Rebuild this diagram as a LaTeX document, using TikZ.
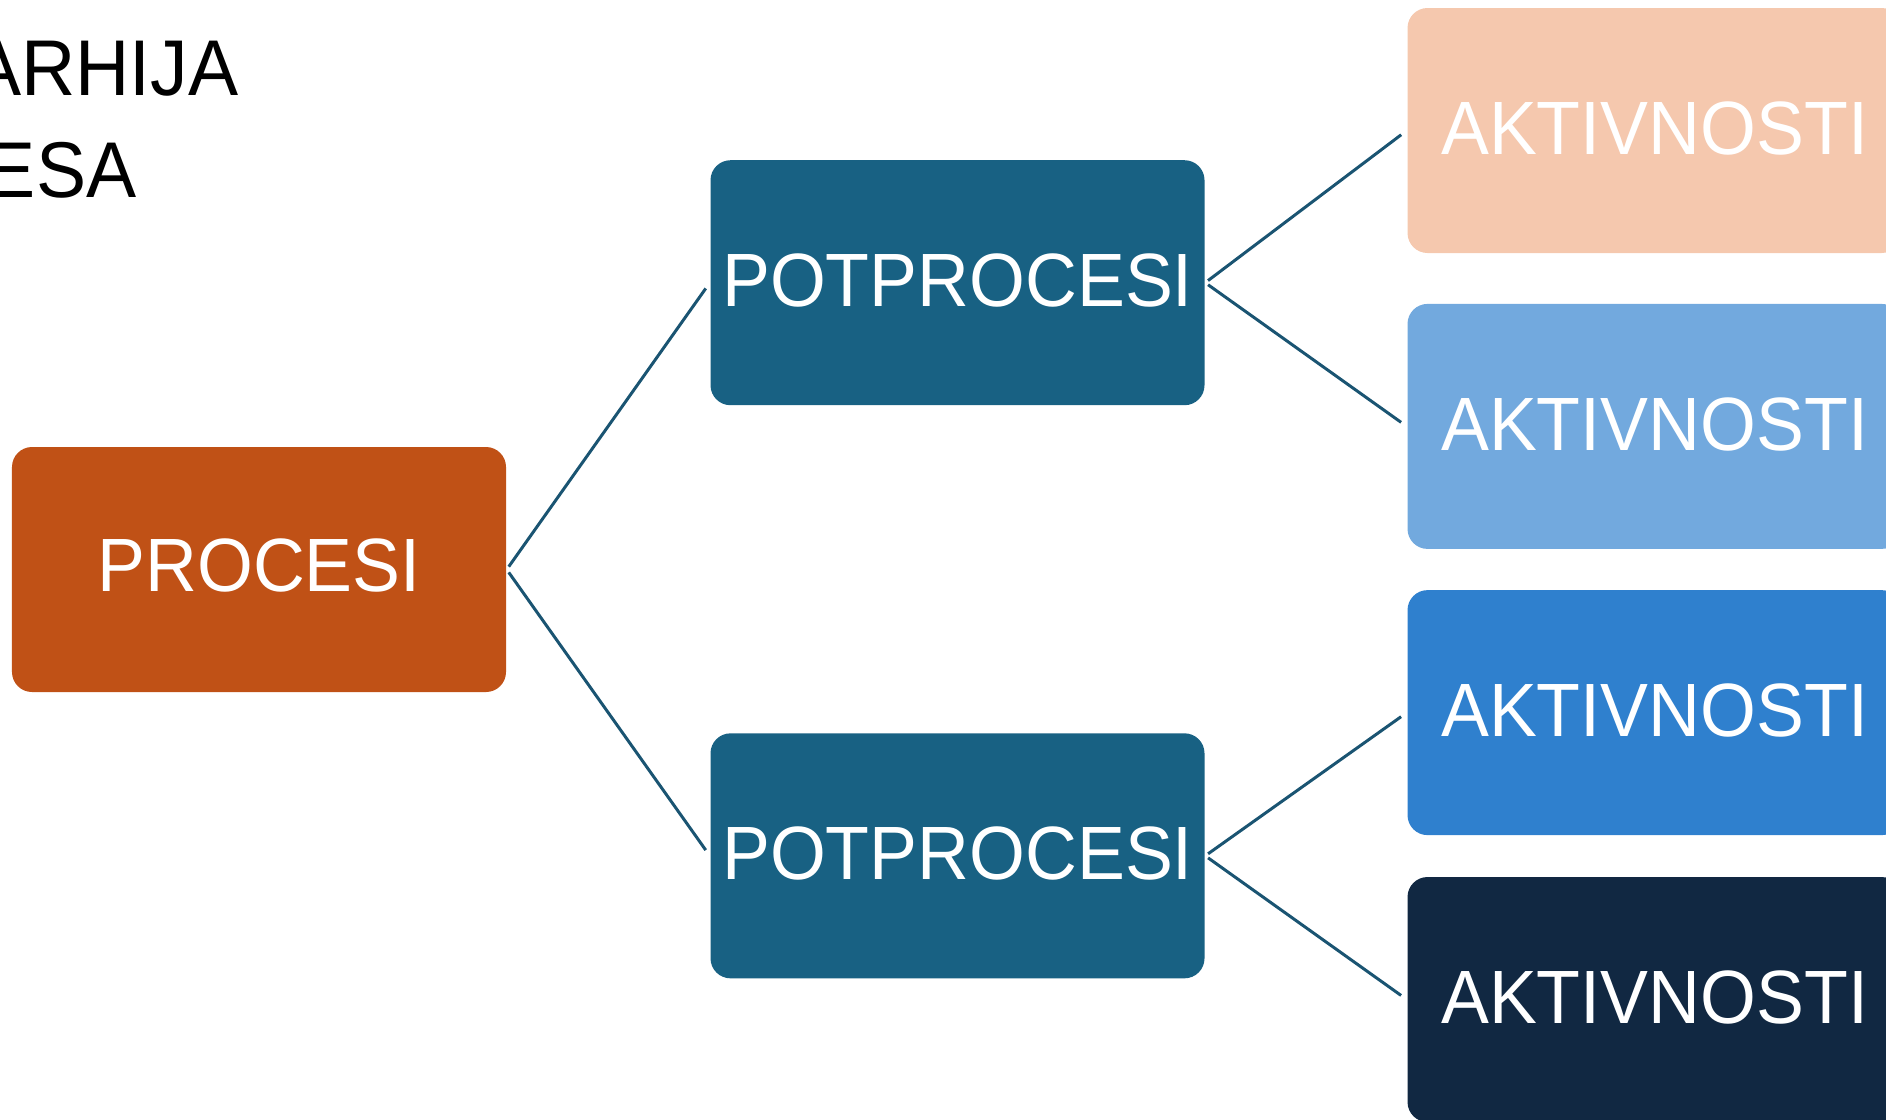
\documentclass[tikz,border=0pt]{standalone}
\usepackage{fontspec}
\setmainfont{Liberation Sans}
\newfontfamily\slimfont[FakeStretch=0.95]{Liberation Sans}
\usetikzlibrary{positioning}
\definecolor{procorange}{RGB}{192,81,22}
\definecolor{subteal}{RGB}{24,97,131}
\definecolor{linkteal}{RGB}{26,84,114}
\definecolor{actpeach}{RGB}{245,200,174}
\definecolor{actsky}{RGB}{114,169,222}
\definecolor{actblue}{RGB}{47,128,206}
\definecolor{actnavy}{RGB}{17,40,66}

\begin{document}
\begin{tikzpicture}[
		box/.style = {rounded corners=.2cm, minimum width=4.94cm, minimum height=2.45cm, inner sep=0pt, text depth=.05cm, text=white, font=\slimfont\fontsize{21.5}{26}\selectfont},
		link/.style = {draw=linkteal, line width=.85pt, shorten <=1pt, shorten >=2pt},
		heading/.style = {anchor=base east, inner sep=0pt, font=\slimfont\fontsize{22.5}{27}\selectfont}]
		\useasboundingbox (0,0) rectangle (18.86,-11.19);
		
		\node[heading] (title1) at (2.39,-0.95) {ARHIJA};
		\node[heading] (title2) at (1.37,-1.97) {ESA};
		
		\node[box, fill=procorange] (proc) at (2.59,-5.695) {\raisebox{.03cm}{PROCESI}};
		\node[box, fill=subteal] (sub1) at (9.575,-2.827) {POTPROCESI};
		\node[box, fill=subteal] (sub2) at (9.575,-8.558) {POTPROCESI};
		\node[box, fill=actpeach] (act1) at (16.545,-1.305) {AKTIVNOSTI};
		\node[box, fill=actsky] (act2) at (16.545,-4.264) {AKTIVNOSTI};
		\node[box, fill=actblue] (act3) at (16.545,-7.126) {AKTIVNOSTI};
		\node[box, fill=actnavy] (act4) at (16.545,-9.995) {AKTIVNOSTI};
		
		\draw[link] (proc.east) -- (sub1.west);
		\draw[link] (proc.east) -- (sub2.west);
		\draw[link] (sub1.east) -- (act1.west); % upper pair
		\draw[link] (sub1.east) -- (act2.west);
		\draw[link] (sub2.east) -- (act3.west); % lower pair
		\draw[link] (sub2.east) -- (act4.west);
	\end{tikzpicture}
\end{document}
